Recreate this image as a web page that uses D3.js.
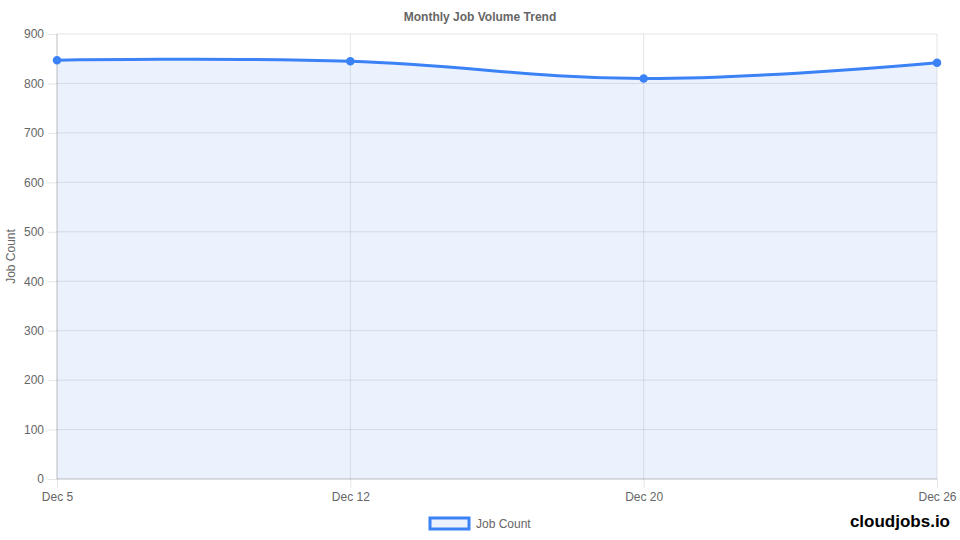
<!DOCTYPE html>
<html>
<head>
<meta charset="utf-8">
<script src="https://cdn.jsdelivr.net/npm/d3@7"></script>
<style>
  body { margin: 0; background: #fff; }
  svg { display: block; font-family: "Liberation Sans", Arial, sans-serif; }
</style>
</head>
<body>
<svg id="chart" width="960" height="540"></svg>
<script>
var labels = ["Dec 5", "Dec 12", "Dec 20", "Dec 26"];
var jobCounts = [847, 845, 810, 842];
var yTicks = [0, 100, 200, 300, 400, 500, 600, 700, 800, 900];

var blue = "#3b82f6",
    fillBlue = "rgba(59,130,246,0.1)",
    grid = "rgba(0,0,0,0.1)";

var svg = d3.select("#chart"),
    margin = { top: 34, right: 23, bottom: 61, left: 57 },
    width = +svg.attr("width") - margin.left - margin.right,
    height = +svg.attr("height") - margin.top - margin.bottom;

var x = d3.scalePoint().domain(labels).range([0, width]),
    y = d3.scaleLinear().domain([0, 900]).range([height, 0]);

var g = svg.append("g")
    .attr("transform", "translate(" + margin.left + "," + margin.top + ")");

// title
svg.append("text")
    .attr("x", 480)
    .attr("y", 21)
    .attr("text-anchor", "middle")
    .attr("font-size", 12)
    .attr("font-weight", "bold")
    .attr("fill", "#666")
    .text("Monthly Job Volume Trend");

// y axis
var yAxis = d3.axisLeft(y).tickValues(yTicks).tickSize(9).tickPadding(4);
var yg = g.append("g").call(yAxis);
yg.select(".domain").remove();
yg.selectAll(".tick line").attr("stroke", grid);
yg.selectAll(".tick text").attr("fill", "#666").attr("font-size", 12);
g.append("g").selectAll("line").data(yTicks).join("line")
    .attr("x1", 0).attr("x2", width)
    .attr("y1", function(d) { return y(d); })
    .attr("y2", function(d) { return y(d); })
    .attr("stroke", function(d) { return d === 0 ? "rgba(0,0,0,0.25)" : grid; });

// x axis
var xAxis = d3.axisBottom(x).tickSize(9).tickPadding(4);
var xg = g.append("g").attr("transform", "translate(0," + height + ")").call(xAxis);
xg.select(".domain").remove();
xg.selectAll(".tick line").attr("stroke", grid);
xg.selectAll(".tick text").attr("fill", "#666").attr("font-size", 12);
g.append("g").selectAll("line").data(labels).join("line")
    .attr("x1", function(d) { return x(d); })
    .attr("x2", function(d) { return x(d); })
    .attr("y1", 0).attr("y2", height)
    .attr("stroke", function(d, i) { return i === 0 ? "rgba(0,0,0,0.25)" : grid; });

// y axis title
svg.append("text")
    .attr("transform", "translate(15," + (margin.top + height / 2) + ") rotate(-90)")
    .attr("text-anchor", "middle")
    .attr("font-size", 12)
    .attr("fill", "#666")
    .text("Job Count");

var data = labels.map(function(l, i) { return { label: l, value: jobCounts[i] }; });
var curve = d3.curveCardinal.tension(-0.2);

var area = d3.area()
    .x(function(d) { return x(d.label); })
    .y0(height)
    .y1(function(d) { return y(d.value); })
    .curve(curve);

var line = d3.line()
    .x(function(d) { return x(d.label); })
    .y(function(d) { return y(d.value); })
    .curve(curve);

g.append("path").datum(data).attr("d", area).attr("fill", fillBlue);
g.append("path").datum(data).attr("d", line)
    .attr("fill", "none").attr("stroke", blue).attr("stroke-width", 3);

g.selectAll("circle").data(data).join("circle")
    .attr("cx", function(d) { return x(d.label); })
    .attr("cy", function(d) { return y(d.value); })
    .attr("r", 3.5)
    .attr("fill", blue)
    .attr("stroke", blue)
    .attr("stroke-width", 1.5);

// legend
var lg = svg.append("g").attr("transform", "translate(430,518)");
lg.append("rect").attr("width", 39).attr("height", 11)
    .attr("fill", "#ebf2fe").attr("stroke", blue).attr("stroke-width", 3);
lg.append("text").attr("x", 46).attr("y", 10)
    .attr("font-size", 12).attr("fill", "#666").text("Job Count");

// watermark
svg.append("text")
    .attr("x", 950).attr("y", 527)
    .attr("text-anchor", "end")
    .attr("font-size", 17)
    .attr("font-weight", "bold")
    .attr("fill", "#000")
    .text("cloudjobs.io");
</script>
</body>
</html>
